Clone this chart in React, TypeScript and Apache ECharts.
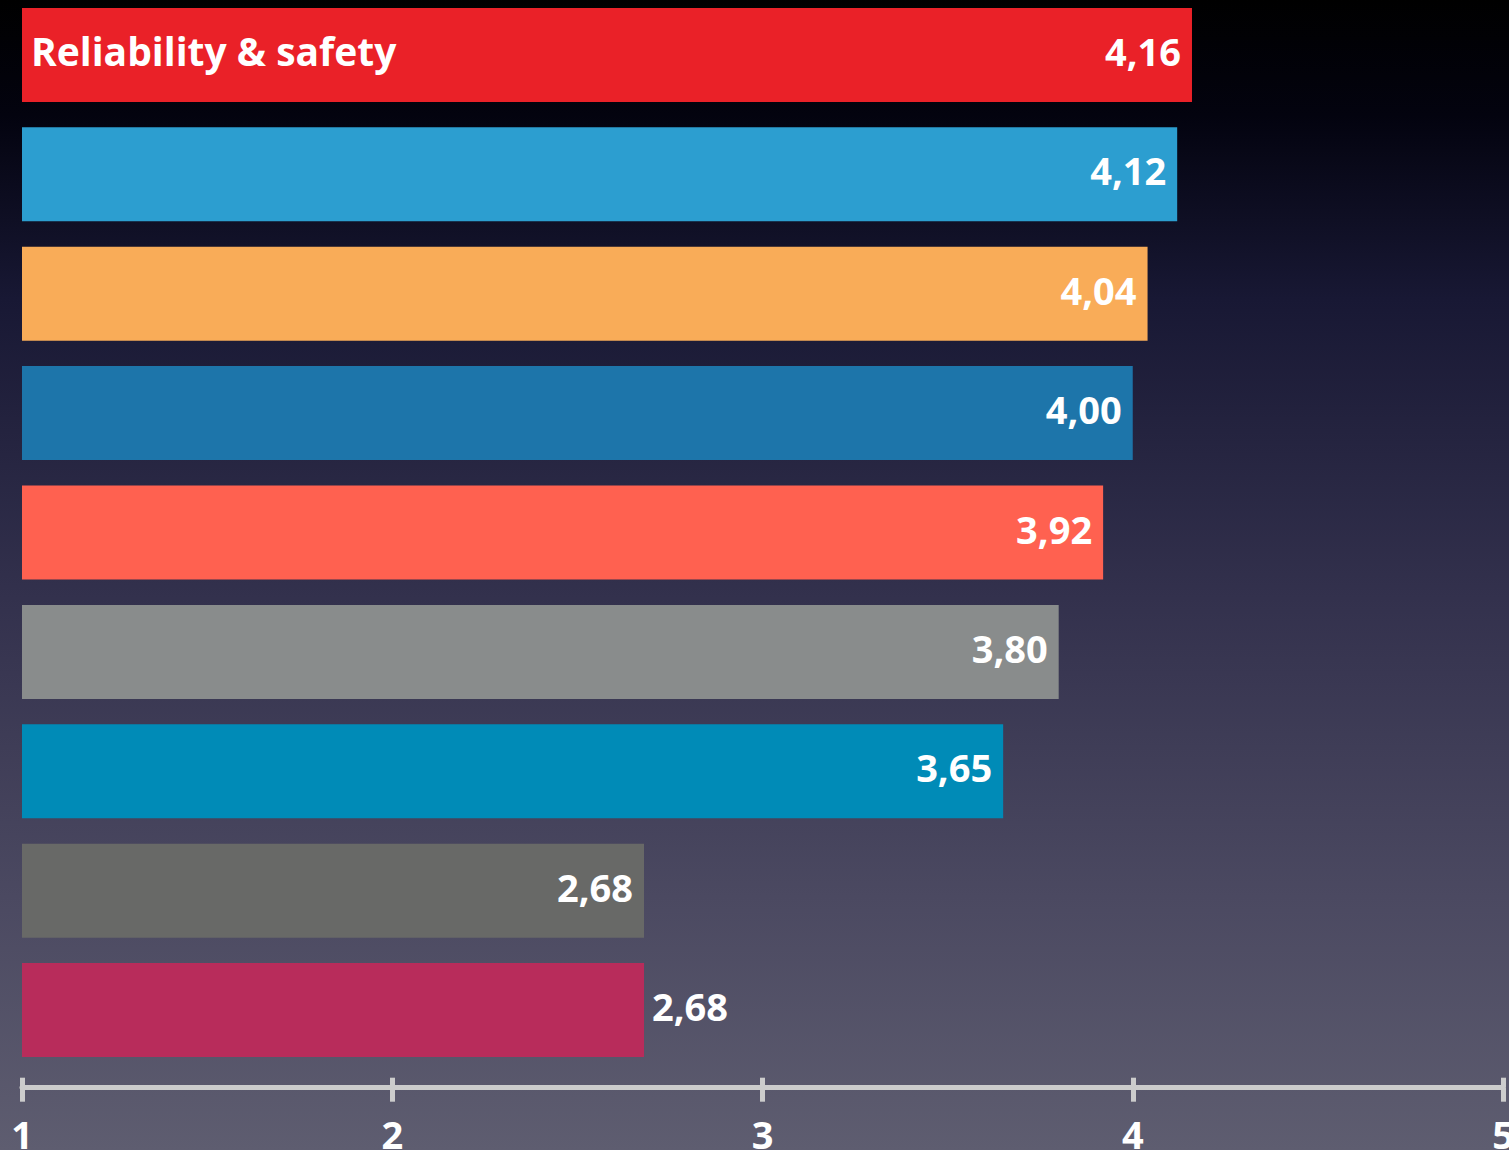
import React, { useEffect, useRef } from "react";
import * as echarts from "echarts";

const categories = [
  "Reliability & safety",
  "Item 2",
  "Item 3",
  "Item 4",
  "Item 5",
  "Item 6",
  "Item 7",
  "Item 8",
  "Item 9",
];
const values = [4.16, 4.12, 4.04, 4.0, 3.92, 3.8, 3.65, 2.68, 2.68];
const barColors = [
  "#EA2128",
  "#2C9ED0",
  "#F9AC58",
  "#1D75AA",
  "#FF6150",
  "#898C8C",
  "#008BB7",
  "#686967",
  "#B82C5B",
];
const shownCategoryLabels = [true, false, false, false, false, false, false, false, false];
const labelOutside = [false, false, false, false, false, false, false, false, true];
const xTicks = [1, 2, 3, 4, 5];

const FONT = "'Open Sans', 'Noto Sans', sans-serif";

export default function App() {
  const ref = useRef<HTMLDivElement>(null);
  useEffect(() => {
    document.body.style.margin = "0";
    const chart = echarts.init(ref.current!, null, { renderer: "svg" });
    const fmt = (v: number) => v.toFixed(2).replace(".", ",");
    const axisCommon = {
      type: "value" as const,
      min: xTicks[0],
      max: xTicks[xTicks.length - 1],
      interval: 1,
      position: "bottom" as const,
      offset: 18,
      splitLine: { show: false },
    };
    chart.setOption({
      animation: false,
      backgroundColor: {
        type: "linear",
        x: 0,
        y: 0,
        x2: 0,
        y2: 1,
        colorStops: [
          { offset: 0, color: "#000000" },
          { offset: 0.1, color: "#03030f" },
          { offset: 0.26, color: "#181834" },
          { offset: 0.52, color: "#33314d" },
          { offset: 0.78, color: "#4b4961" },
          { offset: 1, color: "#5e5d70" },
        ],
      },
      grid: {
        left: 22,
        right: 6,
        top: -4.7,
        height: 1074.4,
        containLabel: false,
        outerBoundsMode: "none",
      },
      xAxis: [
        {
          ...axisCommon,
          axisLine: { show: true, lineStyle: { color: "#cccccc", width: 5 } },
          axisTick: { show: true, length: 14, lineStyle: { color: "#cccccc", width: 5 } },
          axisLabel: {
            show: true,
            margin: 27,
            color: "#ffffff",
            fontFamily: FONT,
            fontWeight: "bold",
            fontSize: 38,
            formatter: (v: number) => String(v),
          },
        },
        {
          ...axisCommon,
          axisLine: { show: false },
          axisTick: { show: true, inside: true, length: 10, lineStyle: { color: "#cccccc", width: 5 } },
          axisLabel: { show: false },
        },
      ],
      yAxis: {
        type: "category",
        inverse: true,
        data: categories,
        show: false,
      },
      series: [
        {
          type: "bar",
          xAxisIndex: 0,
          barWidth: 94,
          barGap: "-100%",
          data: values.map((v, i) => ({
            value: v,
            itemStyle: { color: barColors[i] },
            label: labelOutside[i]
              ? { position: "right", distance: 8 }
              : { position: "insideRight", distance: 11 },
          })),
          label: {
            show: true,
            color: "#ffffff",
            fontFamily: FONT,
            fontWeight: "bold",
            fontSize: 38,
            offset: [0, -4],
            formatter: (p: any) => fmt(p.value),
          },
        },
        {
          type: "bar",
          xAxisIndex: 0,
          barWidth: 94,
          barGap: "-100%",
          silent: true,
          itemStyle: { color: "rgba(0,0,0,0)" },
          data: values.map((v, i) => ({
            value: v,
            label: { show: shownCategoryLabels[i] },
          })),
          label: {
            show: false,
            position: "insideLeft",
            distance: 9,
            color: "#ffffff",
            fontFamily: FONT,
            fontWeight: "bold",
            fontSize: 39,
            offset: [0, -4],
            formatter: (p: any) => p.name,
          },
        },
      ],
    });
    return () => chart.dispose();
  }, []);
  return <div ref={ref} style={{ width: 1509, height: 1150 }} />;
}
